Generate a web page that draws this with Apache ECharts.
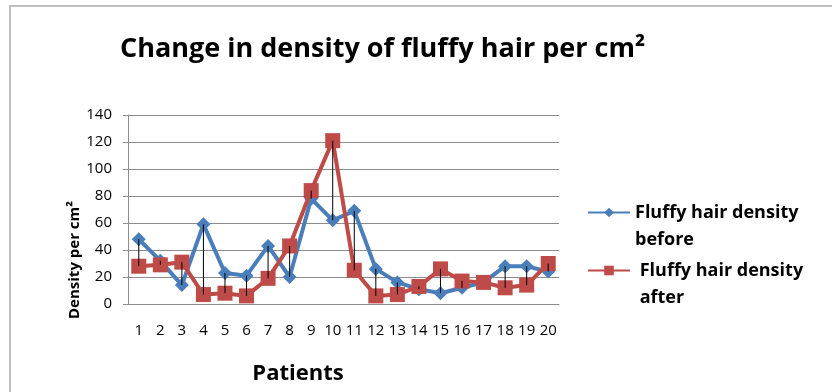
<!DOCTYPE html>
<html><head><meta charset="utf-8">
<script src="https://cdn.jsdelivr.net/npm/echarts@6/dist/echarts.min.js"></script>
<style>html,body{margin:0;padding:0;background:#fff}#c{width:832px;height:392px}</style>
</head><body><div id="c"></div>
<script>
const patients = ['1','2','3','4','5','6','7','8','9','10','11','12','13','14','15','16','17','18','19','20'];
const densityBefore = [48,32,14,59,23,21,43,20,78,62,69,26,16,11,8,12,16,28,28,24];
const densityAfter  = [28,29,31,7,8,6,19,43,84,121,25,6,7,13,26,17,16,12,14,30];
const seriesNames = ['Fluffy hair density before','Fluffy hair density after'];
const yTicks = {min:0, max:140, interval:20};

const FONT = '"Open Sans", sans-serif';
const legendText = {fontFamily:FONT, fontWeight:'bold', fontSize:18, color:'#000', lineHeight:27};
const chart = echarts.init(document.getElementById('c'), null, {renderer:'canvas'});
chart.setOption({
  animation:false,
  backgroundColor:'#fff',
  title:{text:'Change in density of fluffy hair per cm²', left:115, top:31,
    textStyle:{fontFamily:FONT, fontWeight:'bold', fontSize:27, color:'#000'}},
  grid:{left:128, right:273, top:115, bottom:88, containLabel:false},
  legend:[
    {orient:'vertical', left:582, top:167, itemWidth:42, itemHeight:12, itemGap:0,
     data:[seriesNames[0]],
     formatter:function(){ return ' \nFluffy hair density\nbefore'; },
     textStyle:legendText},
    {orient:'vertical', left:582, top:225, itemWidth:42, itemHeight:12, itemGap:0,
     data:[seriesNames[1]],
     formatter:function(){ return ' \n Fluffy hair density\n after'; },
     textStyle:legendText}
  ],
  xAxis:{type:'category', data:patients, boundaryGap:true,
    axisLine:{lineStyle:{color:'#8c8c8c', width:1}}, axisTick:{show:false},
    axisLabel:{interval:0, fontFamily:FONT, fontSize:15, color:'#000', margin:19}},
  yAxis:{type:'value', min:yTicks.min, max:yTicks.max, interval:yTicks.interval,
    axisLine:{show:true, lineStyle:{color:'#8c8c8c'}},
    axisTick:{show:true, length:5, lineStyle:{color:'#8c8c8c'}},
    splitLine:{lineStyle:{color:'#8c8c8c', width:1}},
    axisLabel:{fontFamily:FONT, fontSize:15, color:'#000', margin:16}},
  graphic:[
    {type:'rect', shape:{x:10,y:6,width:900,height:500}, style:{fill:'none', stroke:'#c0c0c0', lineWidth:2}, silent:true},
    {type:'text', x:75, y:260, rotation:Math.PI/2, style:{text:'Density per cm²', fontFamily:FONT, fontWeight:'bold', fontSize:15, fill:'#000', align:'center', verticalAlign:'middle'}},
    {type:'text', x:298, y:374, style:{text:'Patients', fontFamily:FONT, fontWeight:'bold', fontSize:22, fill:'#000', align:'center', verticalAlign:'middle'}}
  ],
  series:[
    {name:seriesNames[0], type:'line', data:densityBefore, symbol:'diamond', symbolSize:14,
      lineStyle:{color:'#4A7EBB', width:4}, itemStyle:{color:'#4A7EBB'}, z:3},
    {name:seriesNames[1], type:'line', data:densityAfter, symbol:'rect', symbolSize:15,
      lineStyle:{color:'#BE4B48', width:4}, itemStyle:{color:'#BE4B48'}, z:4},
    {type:'custom', data:patients.map((p,i)=>[i, densityBefore[i], densityAfter[i]]), z:5,
      renderItem:function(params, api){
        const a = api.coord([api.value(0), api.value(1)]);
        const b = api.coord([api.value(0), api.value(2)]);
        return {type:'line', shape:{x1:a[0], y1:a[1], x2:b[0], y2:b[1]}, style:{stroke:'#000', lineWidth:1}};
      }}
  ]
});
</script></body></html>
